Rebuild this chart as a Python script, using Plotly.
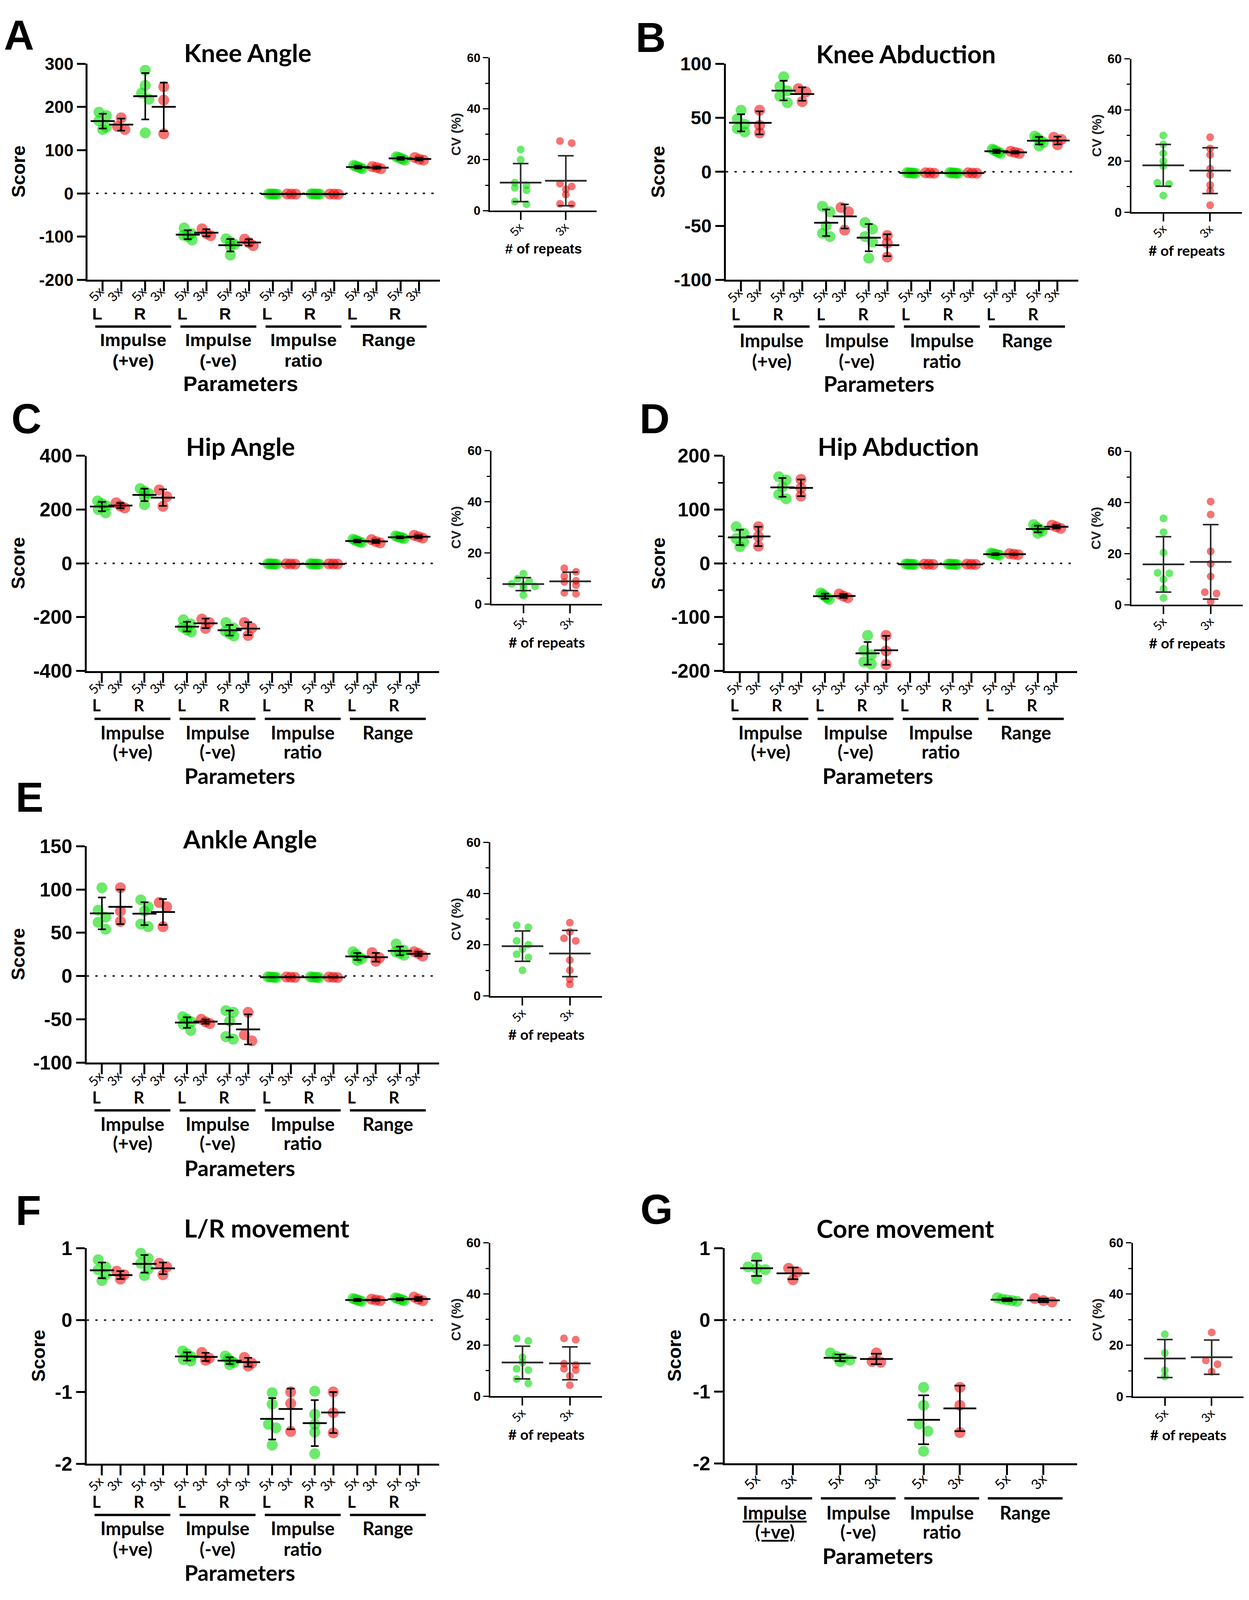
import numpy as np
import plotly.graph_objects as go

W, H = 3197, 4384

# ----------------------------- data -----------------------------
rep_labels = ["5x", "3x"]
side_labels = ["L", "R"]
param_labels = [["Impulse", "(+ve)"], ["Impulse", "(-ve)"], ["Impulse", "ratio"], ["Range"]]
y_title = "Score"
x_title = "Parameters"
cv_y_title = "CV (%)"
cv_x_title = "# of repeats"

# category order: Imp+ L5x, L3x, R5x, R3x | Imp- ... | ratio ... | range ...
knee_angle = [
    [188, 180, 168, 153, 148], [175, 155, 148], [285, 250, 232, 218, 140], [247, 216, 138],
    [-80, -93, -97, -100, -108], [-82, -93, -98], [-105, -112, -118, -122, -143], [-106, -114, -121],
    [-1.2, -1.4, -1.5, -1.7, -1.9], [-1.3, -1.6, -1.8], [-1.1, -1.3, -1.5, -1.6, -1.8], [-1.4, -1.6, -1.9],
    [65, 63, 61, 59, 57], [62, 60, 57], [85, 83, 81, 79, 77], [83, 79, 77],
]
knee_angle_cv_5x = [24, 20, 11, 10, 9, 8, 3.6, 2.5]
knee_angle_cv_3x = [27.3, 26.5, 10.6, 9.5, 8.4, 6.3, 2.7, 2.5]

knee_abduction = [
    [57, 49, 44, 40, 37], [57, 43, 36], [88, 79, 75, 70, 64], [77, 74, 65],
    [-32, -37, -50, -57, -60], [-33, -37, -54], [-47, -53, -60, -65, -80], [-59, -66, -79],
    [-0.8, -1.0, -1.1, -1.2, -1.4], [-0.9, -1.1, -1.3], [-0.8, -1.0, -1.1, -1.3, -1.4], [-0.9, -1.2, -1.3],
    [21, 20, 19, 18, 17], [19, 18, 17], [33, 31, 29, 27, 24], [32, 30, 25],
]
knee_abduction_cv_5x = [30, 26.5, 23, 20, 18, 11.5, 11, 6.5]
knee_abduction_cv_3x = [29.3, 24.9, 22.4, 17, 14.5, 10.6, 8.4, 2.7]

hip_angle = [
    [232, 222, 214, 200, 188], [225, 213, 206], [278, 268, 260, 248, 218], [273, 248, 212],
    [-210, -225, -238, -248, -255], [-207, -220, -242], [-220, -240, -252, -262, -270], [-220, -240, -268],
    [-1.5, -2.0, -2.3, -2.6, -3.0], [-1.8, -2.2, -2.8], [-1.6, -2.0, -2.4, -2.7, -3.0], [-1.9, -2.3, -2.7],
    [90, 86, 83, 80, 77], [88, 81, 76], [102, 99, 97, 95, 92], [104, 99, 94],
]
hip_angle_cv_5x = [11.9, 9.9, 8.9, 7.9, 7.4, 6.9, 5.9, 3.5]
hip_angle_cv_3x = [14, 12.6, 10.9, 9.1, 8.7, 7.4, 4.4, 4.0]

hip_abduction = [
    [68, 56, 46, 40, 31], [68, 50, 32], [161, 155, 142, 128, 120], [156, 140, 125],
    [-55, -58, -61, -64, -67], [-57, -61, -64], [-134, -162, -170, -183, -187], [-134, -163, -188],
    [-1.2, -1.5, -1.7, -1.9, -2.2], [-1.4, -1.7, -2.0], [-1.3, -1.5, -1.8, -2.0, -2.2], [-1.4, -1.8, -2.1],
    [19, 18, 17, 16, 15], [18, 17, 16], [72, 67, 64, 60, 56], [71, 68, 65],
]
hip_abduction_cv_5x = [33.8, 28.4, 20.4, 12.5, 12.3, 10, 6.3, 2.7]
hip_abduction_cv_3x = [40.4, 35.3, 20.9, 16, 11.1, 4.9, 4.4, 1.2]

ankle_angle = [
    [102, 76, 68, 62, 54], [102, 75, 63], [88, 80, 75, 60, 57], [85, 80, 57],
    [-47, -50, -53, -56, -63], [-50, -53, -55], [-40, -42, -52, -70, -73], [-42, -68, -75],
    [-1.0, -1.2, -1.4, -1.6, -1.8], [-1.1, -1.4, -1.7], [-1.0, -1.3, -1.5, -1.6, -1.9], [-1.2, -1.5, -1.8],
    [28, 25, 22, 20, 18], [27, 21, 17], [37, 30, 28, 26, 24], [28, 26, 23],
]
ankle_angle_cv_5x = [27.6, 26.8, 21.5, 20, 18.3, 16.3, 15, 10]
ankle_angle_cv_3x = [28.6, 25, 22.5, 21.5, 14, 10, 6.5, 4.5]

lr_movement = [
    [0.84, 0.74, 0.70, 0.63, 0.55], [0.68, 0.63, 0.57], [0.93, 0.86, 0.79, 0.71, 0.62], [0.79, 0.74, 0.63],
    [-0.43, -0.47, -0.51, -0.55, -0.57], [-0.45, -0.53, -0.56], [-0.50, -0.54, -0.57, -0.59, -0.62], [-0.52, -0.60, -0.64],
    [-1.01, -1.17, -1.45, -1.50, -1.74], [-1.00, -1.16, -1.55], [-0.99, -1.31, -1.45, -1.56, -1.86], [-1.00, -1.29, -1.57],
    [0.30, 0.29, 0.28, 0.27, 0.26], [0.29, 0.28, 0.27], [0.31, 0.30, 0.29, 0.28, 0.27], [0.32, 0.29, 0.27],
]
lr_movement_cv_5x = [22.6, 21.6, 15.2, 13.2, 10.7, 10.2, 6.7, 5.0]
lr_movement_cv_3x = [22.6, 22.1, 12.7, 12.2, 10.7, 10.2, 7.9, 4.3]

# core movement: no L/R split -> Imp+ 5x, 3x | Imp- | ratio | range
core_movement = [
    [0.87, 0.74, 0.72, 0.70, 0.57], [0.72, 0.67, 0.56],
    [-0.46, -0.51, -0.53, -0.56, -0.58], [-0.46, -0.58, -0.59],
    [-0.94, -1.19, -1.45, -1.55, -1.83], [-0.94, -1.19, -1.57],
    [0.31, 0.29, 0.28, 0.27, 0.26], [0.30, 0.27, 0.25],
]
core_movement_cv_5x = [24.3, 17, 10.2, 7.8]
core_movement_cv_3x = [25, 14.1, 12.6, 9.7]

panel_letters = ["A", "B", "C", "D", "E", "F", "G"]
panel_titles = ["Knee Angle", "Knee Abduction", "Hip Angle", "Hip Abduction",
                "Ankle Angle", "L/R movement", "Core movement"]
panel_data = [knee_angle, knee_abduction, hip_angle, hip_abduction,
              ankle_angle, lr_movement, core_movement]
panel_cv5 = [knee_angle_cv_5x, knee_abduction_cv_5x, hip_angle_cv_5x, hip_abduction_cv_5x,
             ankle_angle_cv_5x, lr_movement_cv_5x, core_movement_cv_5x]
panel_cv3 = [knee_angle_cv_3x, knee_abduction_cv_3x, hip_angle_cv_3x, hip_abduction_cv_3x,
             ankle_angle_cv_3x, lr_movement_cv_3x, core_movement_cv_3x]
panel_yranges = [(-200, 300), (-100, 100), (-400, 400), (-200, 200), (-100, 150), (-2, 1), (-2, 1)]
panel_ysteps = [100, 50, 200, 100, 50, 1, 1]
cv_range = (0, 60)

# ----------------------------- layout (reference pixels) -----------------------------
ARIAL = "Liberation Sans, Arial, Helvetica, sans-serif"
NARROW = "Liberation Sans Narrow, Arial Narrow, Liberation Sans, Arial, sans-serif"
CAL = "Lato, Carlito, Calibri, sans-serif"

GREEN = "rgba(0,218,0,0.58)"
RED = "rgba(238,0,0,0.55)"

# main=(x0,x1,y0,y1), cv=(x0,x1,y0,y1); offs = (rep label, L/R, group line, label1, label2, Parameters)
L = [
    dict(main=(224, 1126, 147, 747), cv=(1254, 1527, 130, 555), letter=(48, 67), title=(634, 116),
         score_x=48, cvlab_x=1167, offs=(40, 95, 130, 168, 225, 288), tickfont=ARIAL, tfs=44,
         txtfont=ARIAL, minor=None, cvtick=ARIAL),
    dict(main=(1858, 2760, 147, 747), cv=(2896, 3179, 133, 559), letter=(1665, 74), title=(2319, 119),
         score_x=1685, cvlab_x=2807, offs=(42, 95, 130, 168, 225, 288), tickfont=NARROW, tfs=48,
         txtfont=CAL, minor=None, cvtick=NARROW),
    dict(main=(222, 1124, 1236, 1834), cv=(1258, 1541, 1222, 1648), letter=(67, 1133), title=(615, 1210),
         score_x=46, cvlab_x=1167, offs=(42, 95, 133, 171, 224, 291), tickfont=NARROW, tfs=50,
         txtfont=CAL, minor=None, cvtick=NARROW),
    dict(main=(1855, 2757, 1236, 1834), cv=(2896, 3181, 1224, 1650), letter=(1675, 1133), title=(2299, 1210),
         score_x=1685, cvlab_x=2805, offs=(45, 95, 133, 171, 224, 291), tickfont=NARROW, tfs=50,
         txtfont=CAL, minor=50, cvtick=NARROW),
    dict(main=(222, 1124, 2321, 2922), cv=(1255, 1541, 2310, 2737), letter=(75, 2185), title=(640, 2300),
         score_x=46, cvlab_x=1167, offs=(44, 97, 133, 170, 224, 293), tickfont=NARROW, tfs=50,
         txtfont=CAL, minor=None, cvtick=NARROW),
    dict(main=(222, 1124, 3438, 4037), cv=(1255, 1541, 3423, 3849), letter=(72, 3333), title=(682, 3382),
         score_x=98, cvlab_x=1167, offs=(55, 105, 142, 179, 236, 302), tickfont=NARROW, tfs=50,
         txtfont=CAL, minor=None, cvtick=NARROW),
    dict(main=(1855, 2757, 3438, 4036), cv=(2900, 3183, 3423, 3850), letter=(1680, 3330), title=(2317, 3383),
         score_x=1727, cvlab_x=2808, offs=(50, None, 97, 136, 189, 256), tickfont=NARROW, tfs=50,
         txtfont=CAL, minor=None, cvtick=NARROW),
]

PAIR_GAP = 2.3


def px_x(px):
    return px / W


def px_y(py):
    return 1 - py / H


def ax_names(n):
    s = "" if n == 1 else str(n)
    return "xaxis" + s, "yaxis" + s, "x" + s, "y" + s


def spread(values, ppu, bin_px, step_px, max_px):
    """Prism-like scatter: points in the same vertical bin are spread sideways (pixels)."""
    order = sorted(range(len(values)), key=lambda i: -values[i])
    offs = [0.0] * len(values)
    groups, cur = [], []
    for i in order:
        if cur and abs(values[cur[0]] - values[i]) * ppu > bin_px:
            groups.append(cur)
            cur = []
        cur.append(i)
    if cur:
        groups.append(cur)
    for g in groups:
        n = len(g)
        if n < 2:
            continue
        step = min(step_px, max_px / (n - 1))
        for j, i in enumerate(g):
            offs[i] = (j - (n - 1) / 2) * step
    return offs


def fmt(v):
    return str(int(v)) if float(v).is_integer() else str(v)


fig = go.Figure()
layout = dict(autosize=True, margin=dict(l=0, r=0, t=0, b=0),
              paper_bgcolor="white", plot_bgcolor="white", showlegend=False,
              hovermode=False)
annotations, shapes = [], []


def ann(text, x, y, font, size, angle=0, xref="paper", yref="paper", xanchor="center", color="black"):
    annotations.append(dict(text=text, x=x, y=y, xref=xref, yref=yref, showarrow=False,
                            xanchor=xanchor, yanchor="middle", textangle=angle,
                            font=dict(family=font, size=size, color=color)))


for p in range(7):
    spec = L[p]
    data = panel_data[p]
    ncat = len(data)
    has_sides = ncat == 16
    n_main, n_cv = 2 * p + 1, 2 * p + 2
    xa, ya, xr, yr = ax_names(n_main)
    cxa, cya, cxr, cyr = ax_names(n_cv)
    tf = spec["txtfont"]
    off = spec["offs"]

    # category positions
    pos = [(c // 2) * PAIR_GAP + (c % 2) for c in range(ncat)]
    mx0, mx1, my0, my1 = spec["main"]
    if has_sides:
        xr_lo, xr_hi = -0.82, pos[-1] + 1.12
    else:
        xr_lo, xr_hi = -0.88, pos[-1] + 0.93
    ylo, yhi = panel_yranges[p]
    ppu_x = (mx1 - mx0) / (xr_hi - xr_lo)
    ppu_y = (my1 - my0) / (yhi - ylo)

    # points
    gx, gy, rx, ry = [], [], [], []
    for c, vals in enumerate(data):
        if has_sides:
            offs = spread(vals, ppu_y, 20, 19, 22)
        else:
            offs = spread(vals, ppu_y, 20, 22, 50)
        xs = [pos[c] + o / ppu_x for o in offs]
        if c % 2 == 0:
            gx += xs
            gy += vals
        else:
            rx += xs
            ry += vals
    for xs, ys, col in ((gx, gy, GREEN), (rx, ry, RED)):
        fig.add_trace(go.Scatter(x=xs, y=ys, mode="markers", xaxis=xr, yaxis=yr, cliponaxis=False,
                                 marker=dict(size=28, color=col, line=dict(width=0))))
    means = [float(np.mean(v)) for v in data]
    sds = [float(np.std(v, ddof=1)) for v in data]
    fig.add_trace(go.Scatter(
        x=pos, y=means, mode="markers", xaxis=xr, yaxis=yr, cliponaxis=False,
        marker=dict(symbol="line-ew", size=44 if has_sides else 60, color="black",
                    line=dict(width=4.5, color="black")),
        error_y=dict(type="data", array=sds, visible=True, color="black",
                     thickness=4, width=10 if has_sides else 14)))

    # main axes
    yt = list(np.arange(ylo, yhi + 1e-9, panel_ysteps[p]))
    yaxis = dict(domain=[px_y(my1), px_y(my0)], anchor=xr, range=[ylo, yhi],
                 tickmode="array", tickvals=yt, ticktext=[fmt(v) for v in yt],
                 ticks="outside", ticklen=22, tickwidth=5, tickcolor="black",
                 showline=True, linewidth=5, linecolor="black", showgrid=False, zeroline=False,
                 tickfont=dict(family=spec["tickfont"], size=spec["tfs"], color="black", weight="bold"))
    if spec["minor"]:
        mv = [v for v in np.arange(ylo, yhi + 1e-9, spec["minor"]) if v not in yt]
        yaxis["minor"] = dict(tickvals=mv, ticks="outside", ticklen=12, tickwidth=4,
                              tickcolor="black", showgrid=False)
    layout[ya] = yaxis
    layout[xa] = dict(domain=[px_x(mx0), px_x(mx1)], anchor=yr, range=[xr_lo, xr_hi],
                      tickmode="array", tickvals=pos, showticklabels=False,
                      ticks="outside", ticklen=25, tickwidth=5, tickcolor="black",
                      showline=True, linewidth=5, linecolor="black", showgrid=False, zeroline=False)
    # rotated repeat labels under every category tick
    shift = 16 if has_sides else 12
    for c in range(ncat):
        ann(rep_labels[c % 2], pos[c] - shift / ppu_x, px_y(my1 + off[0]), tf,
            34 if has_sides else 36, angle=-45, xref=xr)

    # dotted zero line
    shapes.append(dict(type="line", xref=xr + " domain", yref=yr, x0=0, x1=1, y0=0, y1=0,
                       layer="below", line=dict(color="#222", width=4, dash="6px,16px")))

    # category group annotations
    for g, plabel in enumerate(param_labels):
        if has_sides:
            cen = g * 2 * PAIR_GAP + (PAIR_GAP + 1) / 2
            half = 2.05
            for s in range(2):
                ann("<b>%s</b>" % side_labels[s], pos[4 * g + 2 * s] - 0.3, px_y(my1 + off[1]),
                    tf, 42, xref=xr)
        else:
            cen = g * PAIR_GAP + 0.5
            half = 1.03
        shapes.append(dict(type="line", xref=xr, yref="paper", x0=cen - half, x1=cen + half,
                           y0=px_y(my1 + off[2]), y1=px_y(my1 + off[2]),
                           line=dict(color="black", width=6)))
        for li, txt in enumerate(plabel):
            t = "<b>%s</b>" % txt
            if p == 6 and g == 0:
                t = "<b><u>%s</u></b>" % txt
            ann(t, cen, px_y(my1 + off[3 + li]), tf, 45 if tf == ARIAL else 47, xref=xr)

    # panel texts
    ann("<b>%s</b>" % panel_letters[p], px_x(spec["letter"][0]), px_y(spec["letter"][1]), ARIAL, 107)
    ann("<b>%s</b>" % panel_titles[p], px_x(spec["title"][0]), px_y(spec["title"][1]), CAL, 64)
    ann("<b>%s</b>" % y_title, px_x(spec["score_x"]), px_y((my0 + my1) / 2), ARIAL, 48, angle=-90)
    ann("<b>%s</b>" % x_title, px_x(mx0 + 392), px_y(my1 + off[5]), tf, 54 if tf == ARIAL else 56)

    # ---------------- CV inset ----------------
    cx0, cx1, cy0, cy1 = spec["cv"]
    cxr_lo, cxr_hi = -0.68, 1.68
    cppu_x = (cx1 - cx0) / (cxr_hi - cxr_lo)
    cppu_y = (cy1 - cy0) / (cv_range[1] - cv_range[0])
    for k, (vals, col) in enumerate(((panel_cv5[p], GREEN), (panel_cv3[p], RED))):
        offs = spread(vals, cppu_y, 14, 30, 62)
        fig.add_trace(go.Scatter(x=[k + o / cppu_x for o in offs], y=vals, mode="markers",
                                 xaxis=cxr, yaxis=cyr, cliponaxis=False,
                                 marker=dict(size=20, color=col, line=dict(width=0))))
    cvs = [panel_cv5[p], panel_cv3[p]]
    fig.add_trace(go.Scatter(
        x=[0, 1], y=[float(np.mean(v)) for v in cvs], mode="markers", xaxis=cxr, yaxis=cyr,
        cliponaxis=False,
        marker=dict(symbol="line-ew", size=76, color="#2a2a2a", line=dict(width=4.5, color="#2a2a2a")),
        error_y=dict(type="data", array=[float(np.std(v, ddof=1)) for v in cvs], visible=True,
                     color="#2a2a2a", thickness=4, width=20)))
    cyt = [0, 20, 40, 60]
    layout[cya] = dict(domain=[px_y(cy1), px_y(cy0)], anchor=cxr, range=list(cv_range),
                       tickmode="array", tickvals=cyt, ticktext=[str(v) for v in cyt],
                       ticks="outside", ticklen=14, tickwidth=3, tickcolor="black",
                       minor=dict(tickvals=[10, 30, 50], ticks="outside", ticklen=8, tickwidth=3,
                                  tickcolor="black", showgrid=False),
                       showline=True, linewidth=4, linecolor="black", showgrid=False, zeroline=False,
                       tickfont=dict(family=spec["cvtick"], size=31 if p == 0 else 33,
                                     color="black", weight="bold"))
    layout[cxa] = dict(domain=[px_x(cx0), px_x(cx1)], anchor=cyr, range=[cxr_lo, cxr_hi],
                       tickmode="array", tickvals=[0, 1], showticklabels=False,
                       ticks="outside", ticklen=20, tickwidth=4, tickcolor="black",
                       showline=True, linewidth=4, linecolor="black", showgrid=False, zeroline=False)
    for k in range(2):
        ann(rep_labels[k], k - 10 / cppu_x, px_y(cy1 + 52), tf, 31, angle=-45, xref=cxr)
    ann("<b>%s</b>" % cv_y_title, px_x(spec["cvlab_x"]), px_y((cy0 + cy1) / 2), ARIAL, 34,
        angle=-90, color="#222")
    ann("<b>%s</b>" % cv_x_title, 0.5, px_y(cy1 + 106),
        tf, 35 if tf == ARIAL else 37, xref=cxr)

layout["annotations"] = annotations
layout["shapes"] = shapes
fig.update_layout(**layout)

fit_js = ("document.documentElement.style.margin='0';document.body.style.margin='0';"
          "document.body.style.overflow='hidden';"
          "var gd=document.getElementById('{plot_id}');"
          "gd.style.width='100vw';gd.style.height='100vh';Plotly.Plots.resize(gd);")
fig.write_html("out.html", default_width="100vw", default_height="100vh",
               config={"displayModeBar": False, "responsive": True}, post_script=fit_js)
